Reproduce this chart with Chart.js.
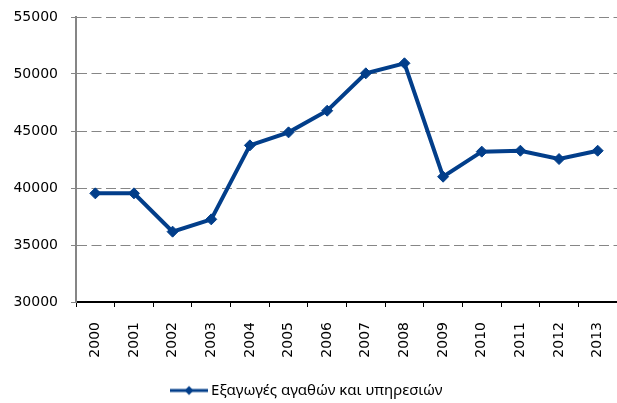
<!DOCTYPE html>
<html>
<head>
  <title>Εξαγωγές αγαθών και υπηρεσιών</title>
  <script src="https://cdn.jsdelivr.net/npm/chart.js@4.4.0/dist/chart.umd.min.js"></script>
  <style>
    body { margin: 0; background: #fff; }
    #wrap { width: 617px; height: 403px; }
  </style>
</head>
<body>
  <div id="wrap"><canvas id="myChart"></canvas></div>
  <script>
    const years = ['2000', '2001', '2002', '2003', '2004', '2005', '2006', '2007', '2008', '2009', '2010', '2011', '2012', '2013'];
    const exportsValues = [39530, 39530, 36170, 37250, 43740, 44880, 46780, 50060, 50940, 40990, 43190, 43270, 42540, 43270];
    const seriesName = 'Εξαγωγές αγαθών και υπηρεσιών';
    const yMin = 30000, yMax = 55000, yStep = 5000;

    const lineColor = '#023E8A';

    // little line + diamond for the legend, like the office chart
    const legendIcon = document.createElement('canvas');
    legendIcon.width = 38;
    legendIcon.height = 12;
    (function () {
      const c = legendIcon.getContext('2d');
      c.strokeStyle = lineColor;
      c.lineWidth = 3;
      c.beginPath();
      c.moveTo(0, 6);
      c.lineTo(38, 6);
      c.stroke();
      c.fillStyle = lineColor;
      c.beginPath();
      c.moveTo(19, 1.5);
      c.lineTo(23.5, 6);
      c.lineTo(19, 10.5);
      c.lineTo(14.5, 6);
      c.closePath();
      c.fill();
    })();

    const ctx = document.getElementById('myChart').getContext('2d');
    new Chart(ctx, {
      type: 'line',
      data: {
        labels: years,
        datasets: [{
          label: seriesName,
          data: exportsValues,
          borderColor: lineColor,
          backgroundColor: lineColor,
          borderWidth: 4,
          pointStyle: 'rectRot',
          pointRadius: 5.5,
          pointBorderWidth: 1,
          tension: 0,
          clip: false
        }]
      },
      options: {
        responsive: true,
        maintainAspectRatio: false,
        animation: false,
        layout: { autoPadding: false, padding: { top: 17, left: 0, right: 0, bottom: -5 } },
        plugins: {
          tooltip: { enabled: false },
          legend: {
            position: 'bottom',
            labels: {
              color: '#000',
              font: { family: 'Noto Sans', size: 15 },
              usePointStyle: true,
              pointStyleWidth: 29,
              padding: 10,
              generateLabels: chart => [{
                text: seriesName,
                pointStyle: legendIcon,
                fillStyle: lineColor,
                strokeStyle: lineColor,
                lineWidth: 0,
                datasetIndex: 0
              }]
            }
          }
        },
        scales: {
          x: {
            offset: true,
            border: { color: '#000', width: 2 },
            grid: {
              offset: true,
              drawOnChartArea: false,
              drawTicks: true,
              tickLength: 5,
              color: '#000'
            },
            ticks: {
              color: '#000',
              font: { family: 'DejaVu Sans', size: 14 },
              minRotation: 90,
              maxRotation: 90,
              padding: 15,
              autoSkip: false
            },
            afterFit: scale => {
              scale.height = 71;
              scale.paddingLeft = 0;
              scale.paddingRight = 0;
            }
          },
          y: {
            min: yMin,
            max: yMax,
            border: { color: '#868686', width: 2, dash: [10, 4.5] },
            grid: {
              color: '#868686',
              lineWidth: 1,
              tickLength: 5,
              tickColor: '#868686',
              tickBorderDash: []
            },
            ticks: {
              stepSize: yStep,
              color: '#000',
              font: { family: 'DejaVu Sans', size: 14 },
              padding: 13,
              callback: value => String(value)
            },
            afterFit: scale => {
              scale.width = 76;
              scale.paddingTop = 0;
              scale.paddingBottom = 0;
            }
          }
        }
      }
    });
  </script>
</body>
</html>
